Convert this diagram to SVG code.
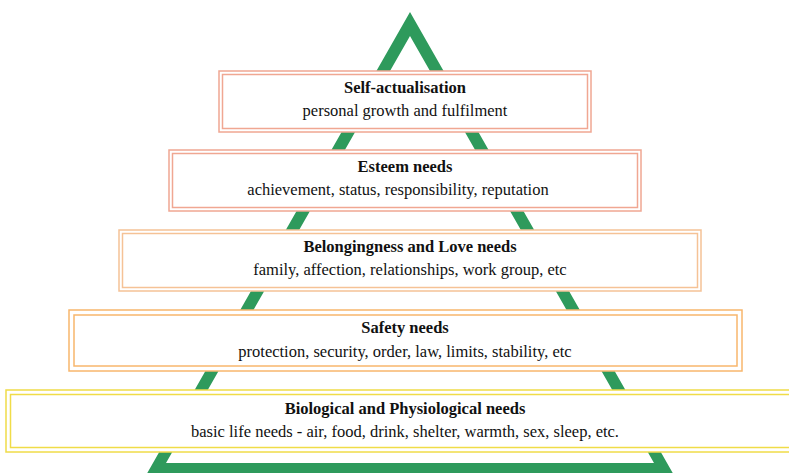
<svg xmlns="http://www.w3.org/2000/svg" width="789" height="473" viewBox="0 0 789 473">
<style>
  .t { font-family: "Liberation Serif", "Times New Roman", serif; font-size: 16.5px; fill: #111; text-anchor: middle; }
  .b { font-weight: bold; }
  .box { fill: #ffffff; stroke-width: 1.5; }
  .inner { fill: none; stroke-width: 1.5; }
  .salmon { stroke: #f0a792; }
  .peach { stroke: #f5c296; }
  .orange { stroke: #f8b66c; }
  .yellow { stroke: #f0dc48; }
</style>
<rect width="789" height="473" fill="#ffffff"/>
<g id="pyramid">
  <path d="M410,12 L141,484 L679,484 Z M410,36 L166,463 L654,463 Z" fill="#2e9a5c" fill-rule="evenodd"/>
</g>
<g id="connectors"></g>
<g id="self-actualisation">
  <rect class="box salmon" x="219" y="71" width="372" height="61"/>
  <rect class="inner salmon" x="222.5" y="74.5" width="365" height="54"/>
  <text class="t b" x="405" y="93">Self-actualisation</text>
  <text class="t" x="405" y="116">personal growth and fulfilment</text>
</g>
<g id="esteem">
  <rect class="box salmon" x="169" y="150" width="472" height="61"/>
  <rect class="inner salmon" x="172.5" y="153.5" width="465" height="54"/>
  <text class="t b" x="405" y="172">Esteem needs</text>
  <text class="t" x="398" y="195">achievement, status, responsibility, reputation</text>
</g>
<g id="belongingness">
  <rect class="box peach" x="119" y="230" width="582" height="61"/>
  <rect class="inner peach" x="122.5" y="233.5" width="575" height="54"/>
  <text class="t b" x="410" y="252">Belongingness and Love needs</text>
  <text class="t" x="410" y="275">family, affection, relationships, work group, etc</text>
</g>
<g id="safety">
  <rect class="box orange" x="69" y="310" width="673" height="61"/>
  <rect class="inner orange" x="74" y="315" width="663" height="51"/>
  <text class="t b" x="405" y="333">Safety needs</text>
  <text class="t" x="405" y="357">protection, security, order, law, limits, stability, etc</text>
</g>
<g id="biological">
  <rect class="box yellow" x="6" y="390" width="800" height="62"/>
  <rect class="inner yellow" x="10.5" y="394.5" width="800" height="53"/>
  <text class="t b" x="405" y="414">Biological and Physiological needs</text>
  <text class="t" x="405" y="437">basic life needs - air, food, drink, shelter, warmth, sex, sleep, etc.</text>
</g>
</svg>
